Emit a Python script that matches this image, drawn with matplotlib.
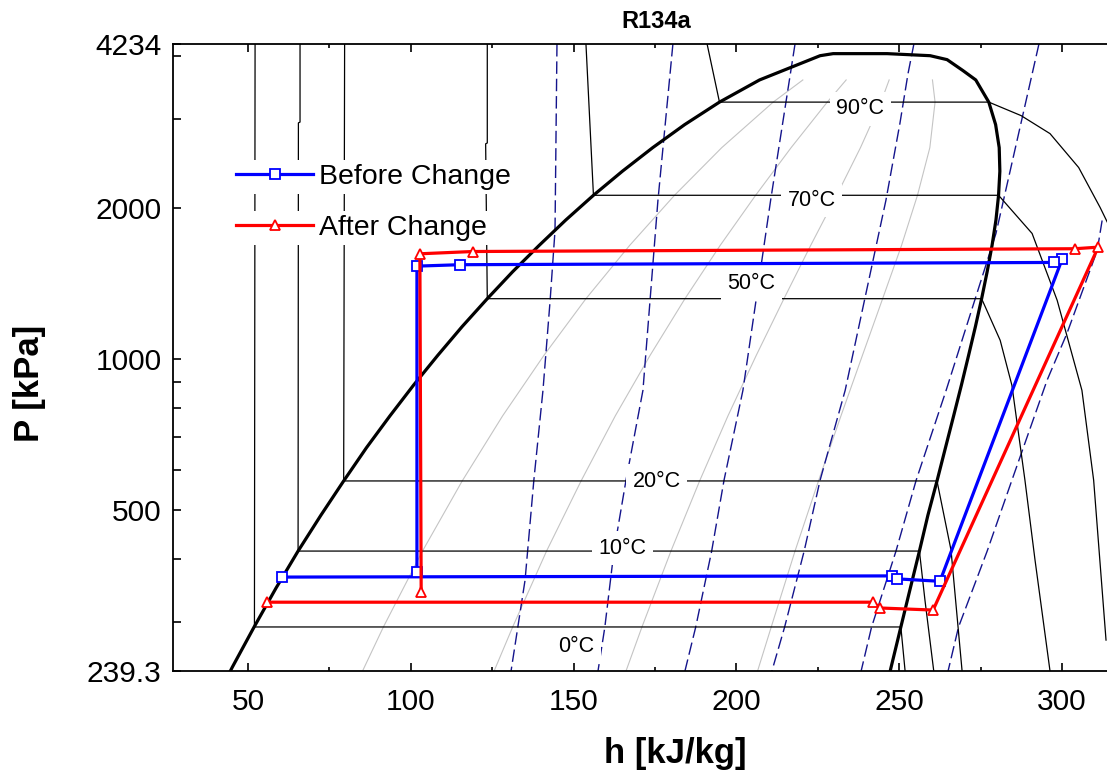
import numpy as np
import matplotlib
matplotlib.use('Agg')
import matplotlib.pyplot as plt
from matplotlib.ticker import FixedLocator, NullFormatter

plt.rcParams['font.family'] = ['Liberation Sans', 'DejaVu Sans']

# saturation dome, h [kJ/kg] / P [kPa]
dome_h = [38.6, 45.2, 51.9, 58.6, 65.4, 72.4, 79.4, 86.4, 93.6, 100.9, 108.3, 115.8,
          123.5, 131.3, 139.4, 147.6, 156.1, 165.0, 174.3, 184.1, 194.8, 207.1, 225.7,
          229.7, 246.3, 259.5, 264.7, 269.6, 273.5, 277.5, 279.6, 280.7, 280.9, 280.5,
          279.7, 278.5, 277.0, 275.3, 273.4, 271.3, 269.1, 266.7, 264.2, 261.6, 258.8,
          256.2, 253.4, 250.5, 247.5, 244.5]
dome_p = [200.6, 243.5, 292.8, 349.7, 414.6, 488.5, 571.7, 665.8, 770.2, 887.5, 1016.6,
          1160.2, 1317.9, 1491.6, 1681.8, 1889.9, 2116.8, 2363.9, 2633.2, 2925.9, 3244.2,
          3590.9, 4013, 4051, 4051, 4013, 3941, 3747, 3590.9, 3244.2, 2925.9, 2633.2,
          2363.9, 2116.8, 1889.9, 1681.8, 1491.6, 1317.9, 1160.2, 1016.6, 887.5, 770.2,
          665.8, 571.7, 488.5, 414.6, 349.7, 292.8, 243.5, 200.6]

# quality lines x = 0.2, 0.4, 0.6, 0.8
q_p = [239.3, 292.8, 414.6, 571.7, 770.2, 1016.6, 1317.9, 1681.8, 2116.8, 2633.2, 3244.2, 3590.9]
q02_h = [85.2, 91.6, 103.6, 115.8, 128.2, 140.9, 153.8, 167.2, 181.0, 195.5, 211.3, 220.4]
q04_h = [125.6, 131.3, 141.7, 152.3, 162.8, 173.5, 184.2, 195.0, 205.9, 216.8, 227.9, 233.7]
q06_h = [166.1, 171.0, 179.9, 188.7, 197.4, 206.1, 214.6, 222.8, 230.8, 238.1, 244.4, 246.9]
q08_h = [206.5, 210.7, 218.0, 225.2, 232.1, 238.7, 244.9, 250.7, 255.6, 259.4, 261.0, 260.2]

# isotherms
t0_h = [52.2, 52.0, 250.5, 251.8, 252.5]
t0_p = [4500, 292.8, 292.8, 239.3, 220]
t10_h = [66.0, 66.0, 65.5, 65.4, 256.2, 257.9, 260.6, 261.5]
t10_p = [4500, 2960, 2950, 414.6, 414.6, 331, 239.3, 220]
t20_h = [79.7, 79.4, 261.6, 265.9, 269.3, 270.2]
t20_p = [4500, 571.7, 571.7, 416.5, 239.3, 220]
t50_h = [123.5, 123.5, 123.0, 123.5, 275.3, 281.0, 284.6, 288.6, 291.7, 296.3, 297.0]
t50_p = [4500, 2690, 2680, 1317.9, 1317.9, 1089, 886, 573.7, 397.8, 239.3, 220]
t70_h = [153.8, 156.1, 280.5, 290.8, 298.5, 306.1, 309.7, 313.5]
t70_p = [4234, 2116.8, 2116.8, 1777, 1308, 866, 573.7, 275.7]
t90_h = [191.0, 194.8, 277.5, 287.4, 296.3, 305.1, 311.7, 314.7]
t90_p = [4234, 3244.2, 3244.2, 3050, 2808, 2404, 2001, 1826]

# isentropes
s1_h = [144.9, 144.3, 142.8, 140.6, 137.8, 135.1, 130.8]
s1_p = [4234, 1801, 1308, 866, 573.7, 362.9, 239.3]
s2_h = [180.5, 175.9, 171.3, 166.1, 162.4, 159.6, 157.5]
s2_p = [4234, 2067, 866, 573.7, 414.5, 292.6, 239.3]
s3_h = [218.0, 210.5, 202.0, 196.2, 192.4, 187.5, 184.2]
s3_p = [4234, 2067, 866, 573.7, 414.5, 292.6, 239.3]
s4_h = [254.5, 252.7, 250.2, 245.9, 233.4, 225.7, 220.8, 214.8, 210.9]
s4_p = [4234, 3697, 2940, 2067, 866, 573.7, 414.5, 292.6, 239.3]
s5_h = [292.9, 279.7, 264.4, 255.2, 249.0, 241.5, 238.3]
s5_p = [4234, 1777, 866, 573.7, 414.5, 292.6, 239.3]
s6_h = [312.3, 310.8, 301.5, 295.4, 284.6, 277.0, 268.2, 265.0]
s6_p = [1886, 1644, 1124, 907, 573.7, 414.5, 292.6, 239.3]

# refrigeration cycles
before_h = [60.4, 247.8, 249.3, 262.5, 300.0, 297.5, 115.1, 101.9, 101.9]
before_p = [368, 370, 365, 361, 1578, 1556, 1540, 1530, 376]
after_h = [55.8, 242.0, 244.1, 260.4, 311.1, 304.0, 119.1, 102.8, 103.2]
after_p = [328, 328, 319.4, 316.4, 1669, 1657, 1636, 1619, 343.6]

iso_labels = ['90°C', '70°C', '50°C', '20°C', '10°C', '0°C']
label_h = [238.0, 223.1, 204.5, 175.6, 164.9, 150.9]
label_p = [3149, 2067, 1414, 571.1, 420.2, 267.7]

W, H = 1107, 774
fig = plt.figure(figsize=(W / 100, H / 100), dpi=100)
ax = fig.add_axes([172.7 / W, 1 - 671 / H, (W - 172.7) / W, 627 / H])
ax.set_yscale('log')

gray = '#c4c4c4'
navy = '#14148c'
for qh in [q02_h, q04_h, q06_h, q08_h]:
    ax.plot(qh, q_p, color=gray, lw=0.8, zorder=1)
for sh, sp in [(s1_h, s1_p), (s2_h, s2_p), (s3_h, s3_p), (s4_h, s4_p), (s5_h, s5_p), (s6_h, s6_p)]:
    ax.plot(sh, sp, color=navy, lw=1.0, ls=(0, (9, 3.5)), zorder=1.5)
for th, tp in [(t0_h, t0_p), (t10_h, t10_p), (t20_h, t20_p), (t50_h, t50_p), (t70_h, t70_p), (t90_h, t90_p)]:
    ax.plot(th, tp, color='black', lw=0.9, zorder=2)
ax.plot(dome_h, dome_p, color='black', lw=2.3, zorder=4)

for s, lh, lp in zip(iso_labels, label_h, label_p):
    ax.text(lh, lp, s, fontsize=15.5, ha='center', va='center', zorder=3,
            bbox=dict(boxstyle='square,pad=0.3', facecolor='white', edgecolor='none'))

b_line, = ax.plot(before_h, before_p, color='#0000ff', lw=2.3, marker='s', ms=7.5,
                  mfc='white', mec='#0000ff', mew=1.3, zorder=5)
a_line, = ax.plot(after_h, after_p, color='#ff0000', lw=2.3, marker='^', ms=7.5,
                  mfc='white', mec='#ff0000', mew=1.3, zorder=5)

ax.set_xlim(26.9, 313.8)
ax.set_ylim(239.3, 4234)

ax.xaxis.set_major_locator(FixedLocator([50, 100, 150, 200, 250, 300]))
ax.xaxis.set_minor_locator(FixedLocator([75, 125, 175, 225, 275]))
ax.yaxis.set_major_locator(FixedLocator([239.3, 500, 1000, 2000, 4234]))
ax.yaxis.set_minor_locator(FixedLocator([300, 400, 600, 700, 800, 900, 3000, 4000]))
ax.yaxis.set_minor_formatter(NullFormatter())
ax.set_yticklabels(['239.3', '500', '1000', '2000', '4234'])

ax.tick_params(which='both', direction='in', top=True, right=False, labelsize=21.5, width=1.2)
ax.tick_params(axis='x', which='major', length=6, pad=12)
ax.tick_params(axis='x', which='minor', length=3.2)
ax.tick_params(axis='y', which='both', length=6, pad=8)
ax.spines['right'].set_visible(False)
for sp in ['left', 'bottom', 'top']:
    ax.spines[sp].set_linewidth(1.3)

fig.text(656 / W, 1 - 22 / H, 'R134a', ha='center', va='center', fontsize=17, fontweight='bold')
fig.text(675 / W, 1 - 753 / H, 'h [kJ/kg]', ha='center', va='center', fontsize=25, fontweight='bold')
fig.text(30 / W, 1 - 383 / H, 'P [kPa]', ha='center', va='center', rotation=90,
         fontsize=25, fontweight='bold')

leg_kw = dict(loc='center left', fontsize=20.5, frameon=True, framealpha=1, facecolor='white',
              edgecolor='none', fancybox=False, borderpad=0.15, borderaxespad=0,
              handlelength=2.7, handletextpad=0.2, numpoints=1,
              bbox_transform=fig.transFigure)
leg1 = ax.legend([b_line], ['Before Change'], bbox_to_anchor=(232 / W, 1 - 177 / H), **leg_kw)
leg1.set_zorder(6)
ax.add_artist(leg1)
leg2 = ax.legend([a_line], ['After Change'], bbox_to_anchor=(232 / W, 1 - 228 / H), **leg_kw)
leg2.set_zorder(6)

fig.savefig('out.png', dpi=100)
